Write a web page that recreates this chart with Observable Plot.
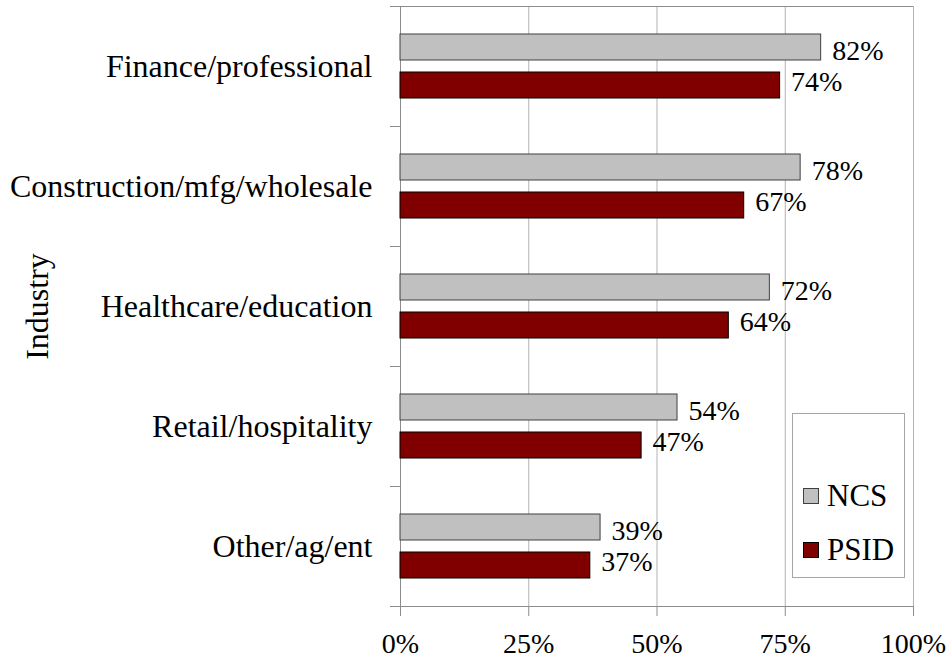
<!DOCTYPE html>
<html>
<head>
<meta charset="utf-8">
<script src="https://cdn.jsdelivr.net/npm/d3@7"></script>
<script src="https://cdn.jsdelivr.net/npm/@observablehq/plot@0.6"></script>
<style>
  body { margin: 0; background: #fff; }
  #wrap { position: relative; width: 950px; height: 662px; font-family: "Liberation Serif", "Times New Roman", serif; }
  #legend { position: absolute; left: 792px; top: 413px; width: 111px; height: 163px; border: 1px solid #a6a6a6; background: #fff; }
  .item { position: absolute; left: 10px; display: flex; align-items: center; font-size: 31px; line-height: 31px; color: #000; }
  .sw { width: 16px; height: 16px; box-sizing: border-box; border: 1px solid #000; margin-right: 8px; }
</style>
</head>
<body>
<div id="wrap"></div>
<script>
const categories = ["Finance/professional", "Construction/mfg/wholesale", "Healthcare/education", "Retail/hospitality", "Other/ag/ent"];
const ncs = [0.82, 0.78, 0.72, 0.54, 0.39];
const psid = [0.74, 0.67, 0.64, 0.47, 0.37];
const seriesNames = ["NCS", "PSID"];
const seriesColors = ["#c0c0c0", "#800000"];
const seriesStrokes = ["#404040", "#000000"];
const xTicks = [0, 0.25, 0.5, 0.75, 1];
const gridValues = [0.25, 0.5, 0.75, 1];
const axisTitle = "Industry";

const rows = categories.map((c, i) => ({category: c, ncs: ncs[i], psid: psid[i]}));
const W = 950, H = 662, mL = 400, mR = 37, mT = 6, mB = 56;
const step = (H - mT - mB) / categories.length;
const fmt = d3.format(".0%");
const axisGray = "#8c8c8c";

const plot = Plot.plot({
  width: W, height: H,
  marginLeft: mL, marginRight: mR, marginTop: mT, marginBottom: mB,
  style: {fontFamily: '"Liberation Serif", "Times New Roman", serif', fontSize: "28px", color: "#000", background: "#fff", overflow: "visible"},
  x: {domain: [0, 1], ticks: xTicks, tickFormat: fmt, tickSize: 10, tickPadding: 17, label: null},
  y: {domain: categories, padding: 0, axis: null},
  marks: [
    Plot.ruleX(gridValues, {stroke: "#b3b3b3", strokeWidth: 1}),
    Plot.ruleX([0], {stroke: axisGray}),
    Plot.ruleY(categories, {y: d => d, dy: -step / 2, insetLeft: -10, insetRight: W - mL - mR, stroke: axisGray}),
    Plot.ruleY([categories[0]], {y: d => d, dy: -step / 2, insetLeft: -10, stroke: axisGray}),
    Plot.ruleY([categories[categories.length - 1]], {y: d => d, dy: step / 2, insetLeft: -10, stroke: axisGray}),
    Plot.barX(rows, {x: "ncs", y: "category", insetTop: 28, insetBottom: 66, fill: seriesColors[0], stroke: seriesStrokes[0]}),
    Plot.barX(rows, {x: "psid", y: "category", insetTop: 66, insetBottom: 28, fill: seriesColors[1], stroke: seriesStrokes[1]}),
    Plot.text(rows, {x: "ncs", y: "category", text: d => fmt(d.ncs), dx: 11, dy: -15, textAnchor: "start", fontSize: 28, fill: "#000"}),
    Plot.text(rows, {x: "psid", y: "category", text: d => fmt(d.psid), dx: 11, dy: 16, textAnchor: "start", fontSize: 28, fill: "#000"}),
    Plot.text(categories, {y: d => d, frameAnchor: "left", textAnchor: "end", dx: -28, fontSize: 32, fill: "#000"}),
    Plot.text([axisTitle], {frameAnchor: "left", textAnchor: "middle", dx: 37 - mL, rotate: -90, fontSize: 32, fill: "#000"})
  ]
});

d3.select(plot).selectAll('[aria-label^="x-axis"] line, [aria-label^="x-axis"] path').attr("stroke", axisGray);

const wrap = document.getElementById("wrap");
wrap.appendChild(plot);

const legend = document.createElement("div");
legend.id = "legend";
const rowTops = [66, 120];
seriesNames.forEach((name, i) => {
  const item = document.createElement("div");
  item.className = "item";
  item.style.top = rowTops[i] + "px";
  const sw = document.createElement("span");
  sw.className = "sw";
  sw.style.background = seriesColors[i];
  sw.style.borderColor = seriesStrokes[i];
  const label = document.createElement("span");
  label.textContent = name;
  item.appendChild(sw);
  item.appendChild(label);
  legend.appendChild(item);
});
wrap.appendChild(legend);
</script>
</body>
</html>
